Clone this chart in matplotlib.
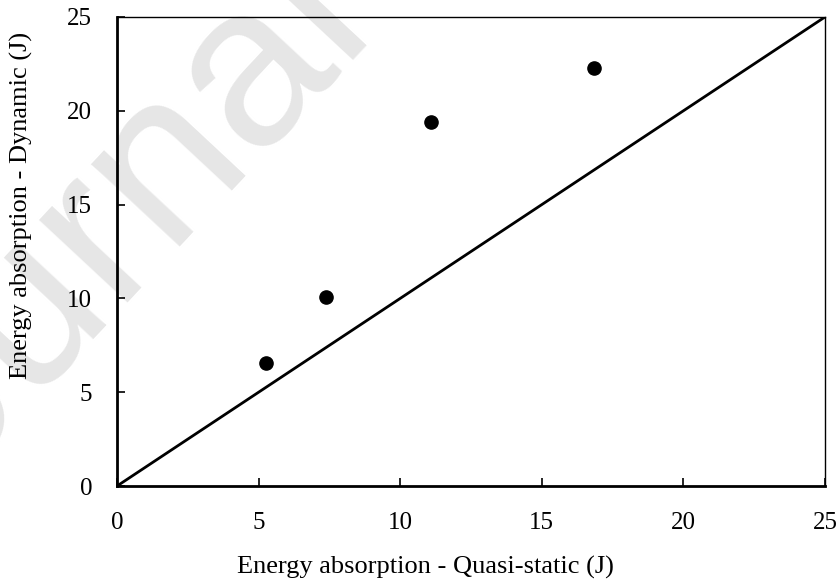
import matplotlib.pyplot as plt

plt.rcParams['font.family'] = ['Liberation Serif', 'DejaVu Serif']

# energy absorption (J)
quasi_static = [5.26, 7.38, 11.09, 16.84]
dynamic = [6.56, 10.07, 19.40, 22.28]
ref_line = [0, 25]
ticks = [0, 5, 10, 15, 20, 25]

fig = plt.figure(figsize=(8.4, 5.82), dpi=100)

# faint watermark behind the chart
fig.text(0.093, 0.545, "Journal", fontsize=165, color="#e6e6e6",
         rotation=47, ha="center", va="center", family="Liberation Sans", zorder=-1)

ax = fig.add_axes([0.1393, 0.1649, 0.8428, 0.8059])
ax.patch.set_alpha(0)

ax.plot(ref_line, ref_line, color="black", linewidth=2, solid_capstyle="butt")
ax.plot(quasi_static, dynamic, "o", color="black", markersize=9.5)

ax.set_xlim(0, 25)
ax.set_ylim(0, 25)
ax.set_xticks(ticks)
ax.set_yticks(ticks)
ax.tick_params(direction="in", labelsize=18, length=6, width=1.2)
ax.tick_params(axis="y", pad=18)
ax.tick_params(axis="x", pad=19)

for side in ["left", "bottom"]:
    ax.spines[side].set_linewidth(2)
for side in ["top", "right"]:
    ax.spines[side].set_linewidth(1)

ax.set_xlabel("Energy absorption - Quasi-static (J)", fontsize=19)
ax.set_ylabel("Energy absorption - Dynamic (J)", fontsize=19)
ax.xaxis.set_label_coords(0.435, -0.15)
ax.yaxis.set_label_coords(-0.118, 0.598)

plt.savefig("out.png")
